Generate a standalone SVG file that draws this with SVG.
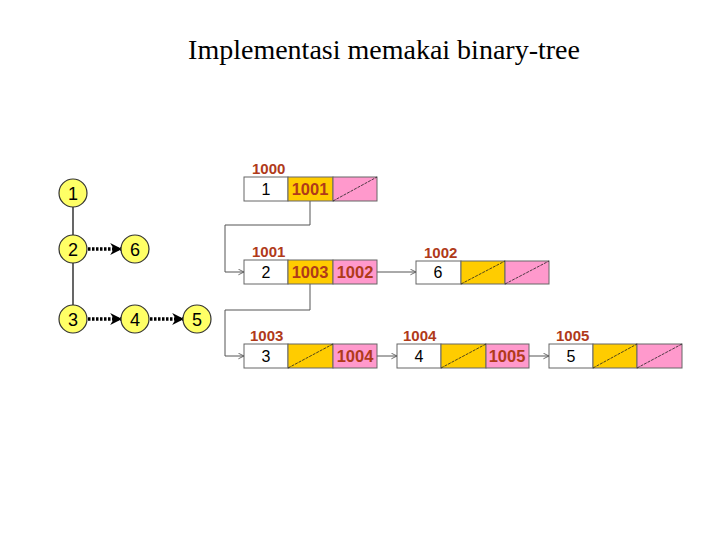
<svg xmlns="http://www.w3.org/2000/svg" width="720" height="540" viewBox="0 0 720 540">
<defs>
<style>
.title{font-family:"Liberation Serif",serif;font-size:28px;fill:#000}
.tn{fill:#FFFF66;stroke:#333;stroke-width:1.2}
.tl{font-family:"Liberation Sans",Arial,sans-serif;font-size:18px;fill:#000;text-anchor:middle}
.addr{font-family:"Liberation Sans",Arial,sans-serif;font-size:15px;font-weight:bold;fill:#B03A1A}
.val{font-family:"Liberation Sans",Arial,sans-serif;font-size:16.5px;font-weight:bold;fill:#B03A1A;text-anchor:middle}
.num{font-family:"Liberation Sans",Arial,sans-serif;font-size:16px;fill:#000;text-anchor:middle}
.cw{fill:#fff;stroke:#666;stroke-width:1}
.co{fill:#FFCC00;stroke:#666;stroke-width:1}
.cp{fill:#FF99CC;stroke:#666;stroke-width:1}
.nil{stroke:#222;stroke-width:0.8;stroke-dasharray:3 1}
.edge{stroke:#000;stroke-width:1.2;fill:none}
.dot{stroke:#000;stroke-width:3.5;stroke-dasharray:2.5 1.5;fill:none}
.link{stroke:#555;stroke-width:1;fill:none}
</style>
<marker id="fa" viewBox="0 0 10 10" refX="9" refY="5" markerWidth="12" markerHeight="12" orient="auto" markerUnits="userSpaceOnUse">
<path d="M0,0 L10,5 L0,10 L3,5 z" fill="#000"/>
</marker>
<marker id="oa" viewBox="0 0 10 10" refX="10" refY="5" markerWidth="7" markerHeight="7" orient="auto" markerUnits="userSpaceOnUse">
<path d="M2,1 L10,5 L2,9" fill="none" stroke="#555" stroke-width="1.2"/>
</marker>
</defs>
<rect width="720" height="540" fill="#fff"/>
<text class="title" x="384" y="59" text-anchor="middle">Implementasi memakai binary-tree</text>

<g id="connectors">
<line class="edge" x1="73" y1="207" x2="73" y2="235"/>
<line class="edge" x1="73" y1="263" x2="73" y2="305"/>
<line class="dot" x1="88" y1="249" x2="121" y2="249" marker-end="url(#fa)"/>
<line class="dot" x1="88" y1="319" x2="121" y2="319" marker-end="url(#fa)"/>
<line class="dot" x1="150" y1="319" x2="183" y2="319" marker-end="url(#fa)"/>
<polyline class="link" points="310,189 310,225 225,225 225,272 244,272" marker-end="url(#oa)"/>
<polyline class="link" points="310,272 310,310 225,310 225,356 244,356" marker-end="url(#oa)"/>
<line class="link" x1="372" y1="272" x2="416" y2="272" marker-end="url(#oa)"/>
<line class="link" x1="372" y1="356" x2="397" y2="356" marker-end="url(#oa)"/>
<line class="link" x1="524" y1="356" x2="549" y2="356" marker-end="url(#oa)"/>
</g>

<g id="t1"><circle class="tn" cx="73" cy="193" r="14"/><text class="tl" x="73" y="199.5">1</text></g>
<g id="t2"><circle class="tn" cx="73" cy="249" r="14"/><text class="tl" x="73" y="255.5">2</text></g>
<g id="t6"><circle class="tn" cx="135" cy="249" r="14"/><text class="tl" x="135" y="255.5">6</text></g>
<g id="t3"><circle class="tn" cx="73" cy="319" r="14"/><text class="tl" x="73" y="325.5">3</text></g>
<g id="t4"><circle class="tn" cx="135" cy="319" r="14"/><text class="tl" x="135" y="325.5">4</text></g>
<g id="t5"><circle class="tn" cx="197" cy="319" r="14"/><text class="tl" x="197" y="325.5">5</text></g>

<g id="n1000">
<text class="addr" x="252" y="174">1000</text>
<rect class="cw" x="244" y="177" width="44" height="24"/>
<rect class="co" x="288" y="177" width="45" height="24"/>
<rect class="cp" x="333" y="177" width="44" height="24"/>
<line class="nil" x1="333" y1="201" x2="377" y2="177"/>
<text class="num" x="266" y="195">1</text>
<text class="val" x="310" y="195">1001</text>
</g>

<g id="n1001">
<text class="addr" x="252" y="257">1001</text>
<rect class="cw" x="244" y="260" width="44" height="24"/>
<rect class="co" x="288" y="260" width="45" height="24"/>
<rect class="cp" x="333" y="260" width="44" height="24"/>
<text class="num" x="266" y="278">2</text>
<text class="val" x="310" y="278">1003</text>
<text class="val" x="355" y="278">1002</text>
</g>

<g id="n1002">
<text class="addr" x="424" y="258">1002</text>
<rect class="cw" x="416" y="261" width="45" height="23"/>
<rect class="co" x="461" y="261" width="44" height="23"/>
<rect class="cp" x="505" y="261" width="44" height="23"/>
<line class="nil" x1="461" y1="284" x2="505" y2="261"/>
<line class="nil" x1="505" y1="284" x2="549" y2="261"/>
<text class="num" x="438" y="278">6</text>
</g>

<g id="n1003">
<text class="addr" x="250" y="341">1003</text>
<rect class="cw" x="244" y="344" width="44" height="24"/>
<rect class="co" x="288" y="344" width="45" height="24"/>
<rect class="cp" x="333" y="344" width="44" height="24"/>
<line class="nil" x1="288" y1="368" x2="333" y2="344"/>
<text class="num" x="266" y="362">3</text>
<text class="val" x="355" y="362">1004</text>
</g>

<g id="n1004">
<text class="addr" x="403" y="341">1004</text>
<rect class="cw" x="397" y="344" width="44" height="24"/>
<rect class="co" x="441" y="344" width="45" height="24"/>
<rect class="cp" x="486" y="344" width="43" height="24"/>
<line class="nil" x1="441" y1="368" x2="486" y2="344"/>
<text class="num" x="419" y="362">4</text>
<text class="val" x="507" y="362">1005</text>
</g>

<g id="n1005">
<text class="addr" x="556" y="341">1005</text>
<rect class="cw" x="549" y="344" width="44" height="24"/>
<rect class="co" x="593" y="344" width="44" height="24"/>
<rect class="cp" x="637" y="344" width="45" height="24"/>
<line class="nil" x1="593" y1="368" x2="637" y2="344"/>
<line class="nil" x1="637" y1="368" x2="682" y2="344"/>
<text class="num" x="571" y="362">5</text>
</g>
</svg>
